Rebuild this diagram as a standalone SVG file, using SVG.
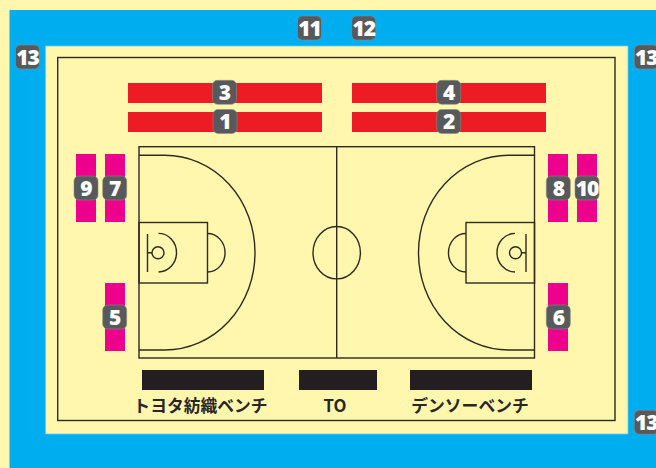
<svg xmlns="http://www.w3.org/2000/svg" width="656" height="468" viewBox="0 0 656 468">
<style>
.l{fill:none;stroke:#2e2a20;stroke-width:1.4}
.red{fill:#ed1c24}.mag{fill:#ec008c}.blk{fill:#231f20}
.b{fill:#58595b;stroke:#8a8b8d;stroke-width:.6}
.n{font-family:"Open Sans","Liberation Sans",sans-serif;font-weight:800;font-size:21px;fill:#fff;text-anchor:middle;letter-spacing:-1px}
.t{font-family:"Noto Sans CJK JP","Noto Sans",sans-serif;font-weight:700;font-size:16.8px;fill:#2a2626;text-anchor:middle}
</style>
<defs>
<g id="half">
<path class="l" d="M139 155.3H165A90 97.35 0 0 1 165 350H139"/>
<rect class="l" x="139" y="222.5" width="68.5" height="60.5"/>
<path class="l" d="M207.5 233.5A17.5 19.2 0 0 1 207.5 272"/>
<path class="l" d="M147.5 234V272M147.5 252.7H152"/>
<circle class="l" cx="158" cy="252.7" r="6"/>
<path class="l" d="M158.5 233.4A18 19.3 0 0 1 158.5 272"/>
</g>
</defs>
<rect width="656" height="468" fill="#fff7ae"/>
<rect x="9.5" y="10" width="646.5" height="458" fill="#00aeef"/>
<rect x="45.5" y="46" width="582.5" height="388" fill="#fff7ae" stroke="#6fcbe0" stroke-width=".8"/>
<g id="court">
<rect class="l" x="57.7" y="57.5" width="557.3" height="363"/>
<rect class="l" x="139" y="146.7" width="395.5" height="211.3"/>
<path class="l" d="M336.7 146.7V358"/>
<ellipse class="l" cx="336.7" cy="252.7" rx="23.7" ry="26.2"/>
<use href="#half"/>
<use href="#half" transform="matrix(-1 0 0 1 673.5 0)"/>
</g>
<g id="benches">
<rect class="blk" x="142" y="370" width="122" height="20"/>
<rect class="blk" x="299" y="370" width="78" height="20"/>
<rect class="blk" x="410" y="370" width="122" height="20"/>
<text class="t" x="200.5" y="411.5">トヨタ紡織ベンチ</text>
<text class="t" x="335" y="411.5">TO</text>
<text class="t" x="470" y="411.5">デンソーベンチ</text>
</g>
<g id="node-1"><rect class="red" x="128" y="112" width="194" height="20"/><rect class="b" x="213" y="109.5" width="24" height="24" rx="5"/><text class="n" x="225" y="129">1</text></g>
<g id="node-2"><rect class="red" x="352" y="112" width="194" height="20"/><rect class="b" x="436.7" y="109.5" width="24" height="24" rx="5"/><text class="n" x="448.7" y="129">2</text></g>
<g id="node-3"><rect class="red" x="128" y="83" width="194" height="20"/><rect class="b" x="212.5" y="80.3" width="24" height="24" rx="5"/><text class="n" x="224.5" y="100">3</text></g>
<g id="node-4"><rect class="red" x="352" y="83" width="194" height="20"/><rect class="b" x="436.7" y="80.3" width="24" height="24" rx="5"/><text class="n" x="448.7" y="100">4</text></g>
<g id="node-5"><rect class="mag" x="105" y="283" width="20" height="68"/><rect class="b" x="102.7" y="305" width="24" height="24" rx="5"/><text class="n" x="114.7" y="324.5">5</text></g>
<g id="node-6"><rect class="mag" x="548" y="283" width="20" height="68"/><rect class="b" x="546.3" y="305" width="24" height="24" rx="5"/><text class="n" x="558.3" y="324.5">6</text></g>
<g id="node-7"><rect class="mag" x="105" y="154" width="20" height="68"/><rect class="b" x="102.7" y="176" width="24" height="24" rx="5"/><text class="n" x="114.7" y="195.5">7</text></g>
<g id="node-8"><rect class="mag" x="548" y="154" width="20" height="68"/><rect class="b" x="546.3" y="176" width="24" height="24" rx="5"/><text class="n" x="558.3" y="195.5">8</text></g>
<g id="node-9"><rect class="mag" x="76" y="154" width="20" height="68"/><rect class="b" x="74" y="176" width="24" height="24" rx="5"/><text class="n" x="86" y="195.5">9</text></g>
<g id="node-10"><rect class="mag" x="577" y="154" width="20" height="68"/><rect class="b" x="575" y="176" width="24" height="24" rx="5"/><text class="n" x="587" y="195.5">10</text></g>
<g id="node-11"><rect class="b" x="297.5" y="16" width="24" height="24" rx="5"/><text class="n" x="309.5" y="35.5">11</text></g>
<g id="node-12"><rect class="b" x="351.7" y="16" width="24" height="24" rx="5"/><text class="n" x="363.7" y="35.5">12</text></g>
<g id="node-13a"><rect class="b" x="15.5" y="45" width="24" height="24" rx="5"/><text class="n" x="27.5" y="64.5">13</text></g>
<g id="node-13b"><rect class="b" x="634.3" y="45" width="24" height="24" rx="5"/><text class="n" x="646.3" y="64.5">13</text></g>
<g id="node-13c"><rect class="b" x="634.3" y="410.3" width="24" height="24" rx="5"/><text class="n" x="646.3" y="429.8">13</text></g>
</svg>
